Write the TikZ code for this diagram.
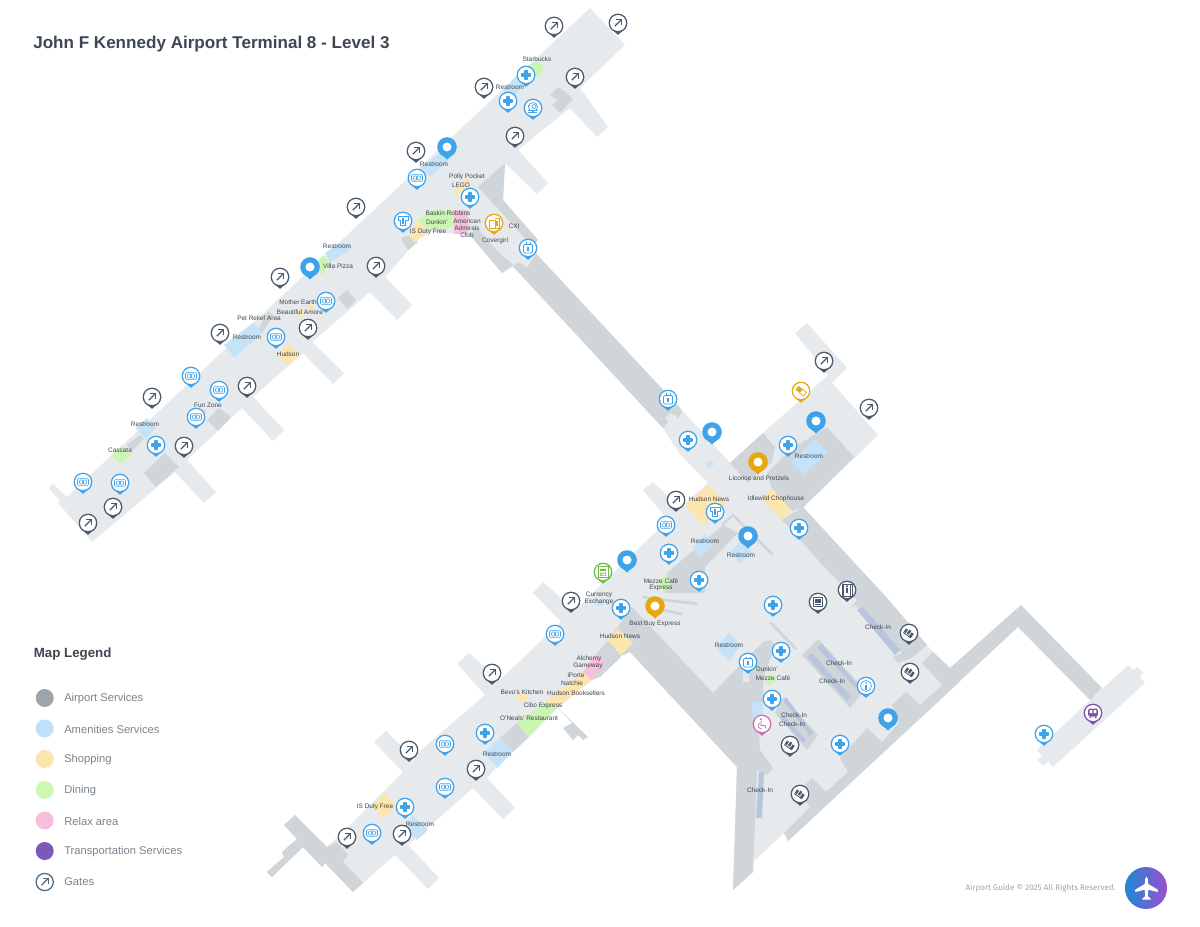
\documentclass[tikz,border=0pt]{standalone}
\usepackage{fontspec}
\setmainfont{Liberation Sans}
\newfontfamily\footfont{Fira Sans}
\definecolor{floor}{HTML}{E7EAEC}
\definecolor{wall}{HTML}{CFD5D8}
\definecolor{amen}{HTML}{C4E3F9}
\definecolor{shop}{HTML}{FDE5B0}
\definecolor{dine}{HTML}{CBF6B2}
\definecolor{relax}{HTML}{F6BFDC}
\definecolor{desk}{HTML}{B9C5DC}
\definecolor{pinblue}{HTML}{3FA3EC}
\definecolor{pindark}{HTML}{4A5A6C}
\definecolor{pingold}{HTML}{E8A70F}
\definecolor{pingreen}{HTML}{6FBF45}
\definecolor{pinpurple}{HTML}{7B52A8}
\definecolor{pinpink}{HTML}{C86FB0}
\definecolor{inkdark}{HTML}{3E4852}
\definecolor{inkgrey}{HTML}{7A848E}
\definecolor{legA}{HTML}{9EA5AA}
\definecolor{legB}{HTML}{BFE0F8}
\definecolor{legC}{HTML}{FDE4AE}
\definecolor{legD}{HTML}{CDF7B5}
\definecolor{legE}{HTML}{F6BFDC}
\definecolor{legF}{HTML}{7B59B8}
\definecolor{gateline}{HTML}{4F6A85}
\definecolor{logoL}{HTML}{1E88D2}
\definecolor{logoR}{HTML}{9B4FD1}
\newcounter{labn}
\newcommand\mlabel[3]{\stepcounter{labn}\node[maplabel] (lab\thelabn) at (#1,#2) {#3};}
\newcommand\legrow[4]{\fill[#3] (44.7,#1) circle (9);\node[legendtext] (#4) at (64,#1+0.6) {#2};}
\newcommand\pinbase[4]{\begin{scope}[shift={(#1,#2)}]
\fill[#3] (-7,5.8) -- (0,11.8) -- (7,5.8) -- cycle;
\fill[#3] (0,0) circle (9.4);
\fill[white] (0,0) circle (8);
#4
\end{scope}}
\newcommand\gatepin[2]{\pinbase{#1}{#2}{pindark}{%
\draw[pindark,line width=1pt] (-3.2,3.2) -- (3.2,-3.2);
\draw[pindark,line width=1pt] (-1.6,-3.4) -- (3.4,-3.4) -- (3.4,1.6);}}
\newcommand\pluspin[2]{\pinbase{#1}{#2}{pinblue}{%
\fill[pinblue,rounded corners=0.5pt] (-5,-1.8) rectangle (5,1.8);
\fill[pinblue,rounded corners=0.5pt] (-1.8,-5) rectangle (1.8,5);}}
\newcommand\xpin[2]{\pinbase{#1}{#2}{pinblue}{%
\draw[pinblue,line width=0.45pt,rounded corners=1pt] (-5.5,-3.6) rectangle (5.5,3.6);
\draw[pinblue,line width=0.45pt] (-1.6,0) circle (2.2);
\draw[pinblue,line width=0.45pt] (1.6,0) circle (2.2);}}
\newcommand\shirtpin[2]{\pinbase{#1}{#2}{pinblue}{%
\draw[pinblue,line width=0.7pt] (-5,-4.5) -- (5,-4.5) -- (5,-1) -- (2.8,-1) -- (2.8,4.5) -- (-2.8,4.5) -- (-2.8,-1) -- (-5,-1) -- cycle;
\fill[pinblue] (-1,-3) rectangle (1,3);}}
\newcommand\bagpin[2]{\pinbase{#1}{#2}{pinblue}{%
\draw[pinblue,line width=0.6pt,rounded corners=0.8pt] (-4.5,-3.5) rectangle (4.5,5);
\draw[pinblue,line width=0.6pt] (-2,-3.5) -- (-2,-5.5) (2,-3.5) -- (2,-5.5);
\fill[pinblue] (-1,-1) rectangle (1,3);}}
\newcommand\lookpin[2]{\pinbase{#1}{#2}{pinblue}{%
\draw[pinblue,line width=0.5pt] (0,-1) circle (4.5);
\draw[pinblue,line width=0.5pt] (1,-1.5) circle (2);
\draw[pinblue,line width=0.5pt] (-5,2) -- (5,2) (-5,4) -- (4,4);
\draw[pinblue,line width=0.5pt] (-5,-3) -- (-3,-3);}}
\newcommand\infopin[2]{\pinbase{#1}{#2}{pinblue}{%
\draw[pinblue,line width=0.5pt] (0,0) circle (5.5);
\fill[pinblue] (-0.7,-1) rectangle (0.7,3.6);
\fill[pinblue] (0,-3) circle (0.9);}}
\newcommand\locpin[3]{\begin{scope}[shift={(#1,#2)}]
\fill[#3] (-8.2,5) -- (0,12.5) -- (8.2,5) -- cycle;
\fill[#3] (0,0) circle (9.8);
\fill[white] (0,0) circle (4.5);
\end{scope}}
\newcommand\checkpin[2]{\pinbase{#1}{#2}{pindark}{%
\begin{scope}[rotate=-35]
\fill[pindark] (-5,-2) rectangle (-2.6,2);
\fill[pindark] (-1.6,-3) rectangle (0.8,1.5);
\fill[pindark] (1.8,-2) rectangle (4.4,3);
\fill[pindark] (-5,2.5) rectangle (4.4,3.4);
\end{scope}}}
\tikzset{
 maplabel/.style={font=\fontsize{4.85}{5}\selectfont,text=inkdark,inner sep=0pt},
 legendtext/.style={font=\fontsize{8.4}{10}\selectfont,text=inkgrey,anchor=west,inner sep=0pt},
 headtext/.style={text=inkdark,anchor=west,inner sep=0pt}
}
\begin{document}
\begin{tikzpicture}[x=0.75pt,y=-0.75pt]
\useasboundingbox (0,0) rectangle (1200,927);
\fill[white] (0,0) rectangle (1200,927);
% ---- floor plates
\fill[floor] (590,8) -- (625,45) -- (580,88) -- (608,127) -- (597,137) -- (570,108) -- (518,150) -- (548,183) -- (537,194) -- (505,163) -- (503,200) -- (538,240) -- (533,247) -- (538,255) -- (680,408) -- (730,463) -- (763,433) -- (797,403) -- (828,375) -- (795,333) -- (807,323) -- (847,368) -- (832,383) -- (878,435) -- (803,508) -- (887,598) -- (927,645) -- (933,652) -- (950,668) -- (960,682) -- (788,841) -- (784,833) -- (753,862) -- (753,872) -- (733,890) -- (737,767) -- (630,652) -- (618,657) -- (558,708) -- (518,743) -- (487,778) -- (515,808) -- (503,819) -- (473,788) -- (408,845) -- (439,878) -- (428,889) -- (395,855) -- (363,883) -- (353,892) -- (325,863) -- (322,867) -- (303,847) -- (272,877) -- (267,872) -- (284,857) -- (282,852) -- (297,839) -- (284,825) -- (295,815) -- (327,847) -- (350,825) -- (403,772) -- (374,742) -- (386,731) -- (413,757) -- (485,695) -- (457,664) -- (469,653) -- (500,680) -- (561,622) -- (533,593) -- (543,582) -- (575,610) -- (668,520) -- (643,490) -- (653,482) -- (680,508) -- (708,483) -- (679,453) -- (663,428) -- (513,267) -- (502,273) -- (470,235) -- (430,232) -- (418,240) -- (385,277) -- (412,305) -- (397,320) -- (370,292) -- (312,342) -- (344,373) -- (333,384) -- (303,353) -- (253,397) -- (284,430) -- (273,441) -- (242,408) -- (187,460) -- (216,492) -- (204,503) -- (175,472) -- (92,542) -- (58,503) -- (60,501) -- (49,488) -- (53,484) -- (67,497) -- cycle;
\fill[floor] (1128,665) -- (1133,670) -- (1138,667) -- (1143,673) -- (1140,677) -- (1145,683) -- (1053,767) -- (1048,762) -- (1043,766) -- (1037,760) -- (1042,756) -- (1037,750) -- cycle;
% ---- grey service areas
\fill[wall] (478,187) -- (505,163) -- (503,200) -- (538,240) -- (532,246) -- (490,200) -- cycle;
\fill[wall] (470,235) -- (502,273) -- (513,265) -- (498,252) -- (483,235) -- (476,228) -- cycle;
\fill[wall] (536,254) -- (680,408) -- (663,428) -- (513,266) -- (519,262) -- (527,268) -- cycle;
\fill[wall] (672,410) -- (680,408) -- (682,413) -- (677,418) -- cycle;
\fill[floor] (665,418) -- (670,413) -- (677,418) -- (670,425) -- cycle;
\fill[wall] (550,95) -- (558,87) -- (563,90) -- (573,99) -- (560,113) -- (552,105) -- (558,100) -- cycle;
\fill[wall] (401,238) -- (410,235) -- (418,242) -- (408,250) -- cycle;
\fill[wall] (338,298) -- (347,290) -- (356,300) -- (347,309) -- cycle;
\fill[wall] (258,330) -- (268,311) -- (273,315) -- (262,333) -- cycle;
\fill[wall] (207,420) -- (219,408) -- (231,417) -- (218,431) -- cycle;
\fill[wall] (127,445) -- (140,435) -- (144,439) -- (132,451) -- cycle;
\fill[wall] (144,473) -- (165,453) -- (179,467) -- (156,487) -- cycle;
\fill[wall] (284,825) -- (295,815) -- (327,847) -- (337,842) -- (348,855) -- (343,862) -- (363,883) -- (353,892) -- (325,863) -- (322,867) -- (303,847) -- (272,877) -- (267,872) -- (284,857) -- (282,852) -- (297,839) -- cycle;
\fill[wall] (558,708) -- (588,737) -- (583,740) -- (578,735) -- (573,740) -- (563,728) -- (572,723) -- cycle;
\fill[wall] (500,738) -- (517,723) -- (529,737) -- (513,752) -- cycle;
\fill[wall] (607,642) -- (621,657) -- (600,677) -- (592,680) -- (605,663) -- (597,653) -- cycle;
\fill[wall] (763,433) -- (775,447) -- (772,462) -- (748,483) -- (730,463) -- cycle;
\fill[wall] (827,427) -- (854,457) -- (803,507) -- (792,511) -- (772,490) -- (767,473) -- (790,450) -- cycle;
\fill[wall] (803,507) -- (887,598) -- (927,645) -- (913,657) -- (898,663) -- (893,657) -- (902,653) -- (855,605) -- (850,608) -- (857,600) -- (827,570) -- (782,520) -- cycle;
\fill[wall] (950,668) -- (1021,605) -- (1102,688) -- (1090,700) -- (1018,627) -- (788,841) -- (784,833) -- (810,807) -- (798,792) -- (812,778) -- (826,792) -- (848,772) -- (840,758) -- (867,728) -- (882,742) -- (899,723) -- (892,705) -- (906,692) -- (920,705) -- (942,685) -- (922,663) -- (933,652) -- cycle;
\fill[wall] (632,607) -- (713,693) -- (763,642) -- (770,640) -- (775,645) -- (763,680) -- (763,703) -- (758,720) -- (760,750) -- (773,768) -- (767,775) -- (757,770) -- (753,872) -- (733,890) -- (737,767) -- (630,652) -- (618,657) -- (607,642) -- cycle;
\fill[floor] (743,668) -- (749,668) -- (749,682) -- (743,682) -- cycle;
\fill[wall] (723,525) -- (738,533) -- (705,567) -- (705,593) -- (665,593) -- (667,573) -- cycle;
\fill[wall] (802,655) -- (818,639) -- (865,690) -- (850,708) -- cycle;
\fill[wall] (780,702) -- (784,698) -- (818,735) -- (807,750) -- (775,713) -- cycle;
% ---- thin partitions
\draw[wall,line width=2pt] (770,622) -- (796,649);
\draw[wall,line width=2pt] (642,597) -- (698,604);
\draw[wall,line width=2pt] (653,608) -- (682,614);
\draw[wall,line width=1.8pt] (722,525) -- (733,515) -- (773,555);
% ---- check-in counters
\fill[desk] (857,610) -- (863,607) -- (900,650) -- (895,655) -- cycle;
\fill[desk] (817,647) -- (822,644) -- (858,685) -- (856,688) -- cycle;
\fill[desk] (807,657) -- (812,653) -- (851,697) -- (847,701) -- cycle;
\fill[desk] (783,700) -- (786,697) -- (813,733) -- (810,736) -- cycle;
\fill[desk] (780,718) -- (783,715) -- (806,740) -- (803,743) -- cycle;
\fill[desk] (759,772) -- (764,772) -- (762,818) -- (756,818) -- cycle;
% ---- amenities
\fill[amen] (517,75) -- (525,83) -- (512,100) -- (503,90) -- cycle;
\fill[amen] (420,168) -- (430,177) -- (457,153) -- (448,147) -- cycle;
\fill[amen] (325,253) -- (342,242) -- (352,248) -- (330,263) -- cycle;
\fill[amen] (224,345) -- (253,323) -- (263,333) -- (234,357) -- cycle;
\fill[amen] (135,428) -- (147,418) -- (156,428) -- (146,439) -- cycle;
\fill[amen] (815,438) -- (828,452) -- (803,475) -- (792,462) -- cycle;
\fill[amen] (705,535) -- (715,543) -- (699,557) -- (693,548) -- cycle;
\fill[amen] (740,542) -- (753,553) -- (740,563) -- (730,552) -- cycle;
\fill[amen] (710,460) -- (714,464) -- (709,469) -- (706,465) -- cycle;
\fill[amen] (729,633) -- (741,645) -- (729,661) -- (716,648) -- cycle;
\fill[amen] (752,702) -- (763,702) -- (762,722) -- (753,720) -- cycle;
\fill[amen] (484,752) -- (500,738) -- (513,752) -- (497,768) -- cycle;
\fill[amen] (413,815) -- (428,830) -- (417,840) -- (405,828) -- cycle;
\fill[amen] (594,600) -- (600,600) -- (604,605) -- (597,606) -- cycle;
% ---- shopping
\fill[shop] (453,192) -- (468,178) -- (471,182) -- (457,195) -- cycle;
\fill[shop] (418,220) -- (427,230) -- (415,243) -- (408,235) -- cycle;
\fill[shop] (307,305) -- (313,304) -- (313,309) -- (307,309) -- cycle;
\fill[shop] (297,312) -- (303,310) -- (304,315) -- (298,317) -- cycle;
\fill[shop] (289,343) -- (299,355) -- (288,366) -- (277,354) -- cycle;
\fill[shop] (708,485) -- (727,503) -- (703,525) -- (685,505) -- cycle;
\fill[shop] (772,488) -- (792,511) -- (782,520) -- (762,499) -- cycle;
\fill[shop] (618,629) -- (633,643) -- (621,655) -- (607,640) -- cycle;
\fill[shop] (545,702) -- (583,672) -- (592,680) -- (557,708) -- cycle;
\fill[shop] (522,692) -- (528,697) -- (522,703) -- (516,697) -- cycle;
\fill[shop] (384,793) -- (396,806) -- (383,818) -- (372,806) -- cycle;
% ---- dining
\fill[dine] (537,61) -- (545,69) -- (535,80) -- (525,68) -- cycle;
\fill[dine] (418,220) -- (432,210) -- (453,210) -- (455,227) -- (430,230) -- cycle;
\fill[dine] (323,255) -- (330,263) -- (322,275) -- (315,265) -- cycle;
\fill[dine] (111,455) -- (122,446) -- (131,455) -- (120,464) -- cycle;
\fill[dine] (665,575) -- (672,583) -- (663,593) -- (658,583) -- cycle;
\fill[dine] (545,702) -- (557,708) -- (529,737) -- (517,723) -- cycle;
\fill[dine] (770,673) -- (777,680) -- (770,686) -- (765,680) -- cycle;
\fill[dine] (752,669) -- (757,666) -- (757,672) -- cycle;
% ---- relax
\fill[relax] (454,210) -- (468,210) -- (468,234) -- (454,234) -- cycle;
\fill[relax] (204,410) -- (206,410) -- (206,412) -- (204,412) -- cycle;
\fill[relax] (597,653) -- (605,663) -- (592,680) -- (583,672) -- cycle;
% ---- pins: gates
\gatepin{554}{26}\gatepin{618}{23}\gatepin{484}{87}\gatepin{575}{77}\gatepin{416}{151}\gatepin{515}{136}
\gatepin{356}{207}\gatepin{376}{266}\gatepin{280}{277}\gatepin{308}{328}\gatepin{220}{333}\gatepin{247}{386}
\gatepin{152}{397}\gatepin{184}{446}\gatepin{113}{507}\gatepin{88}{523}\gatepin{676}{500}\gatepin{824}{361}
\gatepin{869}{408}\gatepin{571}{601}\gatepin{492}{673}\gatepin{409}{750}\gatepin{476}{769}\gatepin{347}{837}\gatepin{402}{834}
% ---- pins: plus
\pluspin{526}{75}\pluspin{508}{101}\pluspin{470}{197}\pluspin{156}{445}\pluspin{688}{440}\pluspin{788}{445}
\pluspin{799}{528}\pluspin{699}{580}\pluspin{669}{553}\pluspin{621}{608}\pluspin{773}{605}\pluspin{781}{651}
\pluspin{772}{699}\pluspin{840}{744}\pluspin{485}{733}\pluspin{405}{807}\pluspin{1044}{734}
% ---- pins: exchange
\xpin{417}{178}\xpin{326}{301}\xpin{276}{337}\xpin{191}{376}\xpin{219}{390}\xpin{196}{417}\xpin{83}{482}\xpin{120}{483}
\xpin{666}{525}\xpin{555}{634}\xpin{445}{744}\xpin{445}{787}\xpin{372}{833}
% ---- pins: other blue
\shirtpin{403}{221}\shirtpin{715}{512}
\bagpin{528}{248}\bagpin{668}{399}\bagpin{748}{662}
\lookpin{533}{108}
\infopin{866}{686}
% ---- pins: location
\locpin{447}{147}{pinblue}\locpin{310}{267}{pinblue}\locpin{712}{432}{pinblue}\locpin{816}{421}{pinblue}
\locpin{748}{536}{pinblue}\locpin{627}{560}{pinblue}\locpin{888}{718}{pinblue}
\locpin{758}{462}{pingold}\locpin{655}{606}{pingold}
% ---- pins: gold
\pinbase{494}{223}{pingold}{%
\draw[pingold,line width=0.5pt] (-4.5,-3) rectangle (1,5);
\draw[pingold,line width=0.5pt] (1,-5) -- (5,-5) -- (5,5) -- (1,5);
\fill[pingold] (2,-2) rectangle (3.5,3);}
\pinbase{801}{391}{pingold}{%
\begin{scope}[rotate=-40]
\fill[pingold] (-5,-2.4) rectangle (0,2.4);
\draw[pingold,line width=0.5pt] (0,-2.4) rectangle (5,2.4);
\end{scope}}
% ---- pins: green, purple, pink
\pinbase{603}{572}{pingreen}{%
\draw[pingreen,line width=0.6pt] (-5,-5.5) rectangle (5,5.5);
\fill[pingreen] (-3,-3.5) rectangle (3,-0.8);
\fill[pingreen] (-3,0.5) rectangle (-1.5,1.8) (-0.7,0.5) rectangle (0.7,1.8) (1.5,0.5) rectangle (3,1.8) (-3,2.6) rectangle (-1.5,3.9) (-0.7,2.6) rectangle (0.7,3.9) (1.5,2.6) rectangle (3,3.9);}
\pinbase{1093}{713}{pinpurple}{%
\fill[pinpurple,rounded corners=1pt] (-4.8,-4.5) rectangle (4.8,3.5);
\fill[white] (-3.4,-2.8) rectangle (-0.6,0) (0.6,-2.8) rectangle (3.4,0);
\fill[pinpurple] (-3.5,3.5) rectangle (-2,5) (2,3.5) rectangle (3.5,5);}
\pinbase{762}{724}{pinpink}{%
\draw[pinpink,line width=0.7pt] (-1,-3.5) -- (-1,1.5) -- (3,1.5) -- (4,4.5);
\draw[pinpink,line width=0.5pt] (-2.5,-1) .. controls (-5,2) and (-3,5) .. (0,5);
\fill[pinpink] (-1,-4.8) circle (1.1);}
% ---- pins: dark
\pinbase{818}{602}{pindark}{%
\draw[pindark,line width=0.6pt] (-4.6,-4.8) rectangle (4.6,4.8);
\fill[pindark] (-3,-3) rectangle (3,1);
\draw[pindark,line width=0.5pt] (-3,2.8) -- (3,2.8);}
\pinbase{847}{590}{pindark}{%
\draw[pindark,line width=0.6pt] (-5,-6) rectangle (5,6);
\fill[pindark] (-1.1,-2) rectangle (1.1,3);
\fill[pindark] (0,-3.6) circle (1.2);
\draw[pindark,line width=0.5pt] (-3.3,-6) -- (-3.3,6) (3.3,-6) -- (3.3,6);}
\checkpin{909}{633}\checkpin{910}{672}\checkpin{790}{745}\checkpin{800}{794}
% ---- map labels
\mlabel{537}{59}{Starbucks}
\mlabel{510}{87}{Restroom}
\mlabel{434}{164}{Restroom}
\mlabel{467}{177}{Polly Pocket}
\mlabel{461}{185}{LEGO}
\mlabel{448}{213}{Baskin Robbins}
\mlabel{437}{222}{Dunkin'}
\mlabel{467}{221}{American}
\mlabel{467}{228}{Admirals}
\mlabel{467}{235}{Club}
\mlabel{428}{232}{IS Duty Free}
\mlabel{514}{226}{CXI}
\mlabel{495}{241}{Covergirl}
\mlabel{337}{246}{Restroom}
\mlabel{338}{266}{Villa Pizza}
\mlabel{298}{302}{Mother Earth}
\mlabel{300}{312}{Beautiful Amore}
\mlabel{259}{318}{Pet Relief Area}
\mlabel{247}{337}{Restroom}
\mlabel{288}{354}{Hudson}
\mlabel{208}{405}{Fun Zone}
\mlabel{145}{424}{Restroom}
\mlabel{120}{450}{Cascata}
\mlabel{759}{478}{Licorice and Pretzels}
\mlabel{809}{456}{Restroom}
\mlabel{709}{499}{Hudson News}
\mlabel{776}{499}{Idlewild Chophouse}
\mlabel{705}{541}{Restroom}
\mlabel{741}{555}{Restroom}
\mlabel{661}{581}{Mezze Café}
\mlabel{661}{588}{Express}
\mlabel{599}{595}{Currency}
\mlabel{599}{602}{Exchange}
\mlabel{655}{624}{Best Buy Express}
\mlabel{620}{636}{Hudson News}
\mlabel{729}{645}{Restroom}
\mlabel{767}{669}{Dunkin'}
\mlabel{773}{678}{Mezze Café}
\mlabel{878}{627}{Check-In}
\mlabel{839}{663}{Check-In}
\mlabel{832}{681}{Check-In}
\mlabel{794}{715}{Check-In}
\mlabel{792}{724}{Check-In}
\mlabel{760}{790}{Check-In}
\mlabel{589}{659}{Alchemy}
\mlabel{588}{666}{Gameway}
\mlabel{576}{675}{iPorte}
\mlabel{572}{683}{Natchie}
\mlabel{576}{693}{Hudson Booksellers}
\mlabel{522}{692}{Bevo's Kitchen}
\mlabel{543}{706}{Cibo Express}
\mlabel{529}{718}{O'Neals' Restaurant}
\mlabel{497}{754}{Restroom}
\mlabel{375}{807}{IS Duty Free}
\mlabel{420}{824}{Restroom}
% ---- title, legend, footer
\node[headtext,font=\fontsize{12.8}{16}\selectfont\bfseries] (title) at (33,44) {John F Kennedy Airport Terminal 8 - Level 3};
\node[headtext,font=\fontsize{10}{13}\selectfont\bfseries] (legendhead) at (33.5,654) {Map Legend};
\legrow{698}{Airport Services}{legA}{la}
\legrow{728.5}{Amenities Services}{legB}{lb}
\legrow{759}{Shopping}{legC}{lc}
\legrow{790}{Dining}{legD}{ld}
\legrow{820.5}{Relax area}{legE}{le}
\legrow{851}{Transportation Services}{legF}{lf}
\draw[gateline,line width=0.95pt,fill=white] (44.7,882) circle (8.6);
\draw[gateline,line width=1pt] (41.5,885.2) -- (48,878.7);
\draw[gateline,line width=1pt] (43.3,878.6) -- (48.2,878.6) -- (48.2,883.5);
\node[legendtext] (lg) at (64,882) {Gates};
\node[font=\footfont\fontsize{6.05}{8}\selectfont,text=legA,anchor=east,inner sep=0pt] (foot) at (1116,888) {Airport Guide © 2025 All Rights Reserved.};
\shade[left color=logoL,right color=logoR] (1146,888) circle (21);
\begin{scope}[shift={(1146.5,888)},x=0.25pt,y=-0.25pt]
\fill[white,rounded corners=0.5pt] (0,-35) -- (4,-27) -- (5,-12) -- (34,5) -- (34,12) -- (5,5) -- (4,25) -- (13,32) -- (13,35) -- (-13,35) -- (-13,32) -- (-4,25) -- (-5,5) -- (-34,12) -- (-34,5) -- (-5,-12) -- (-4,-27) -- cycle;
\end{scope}
\end{tikzpicture}
\end{document}
